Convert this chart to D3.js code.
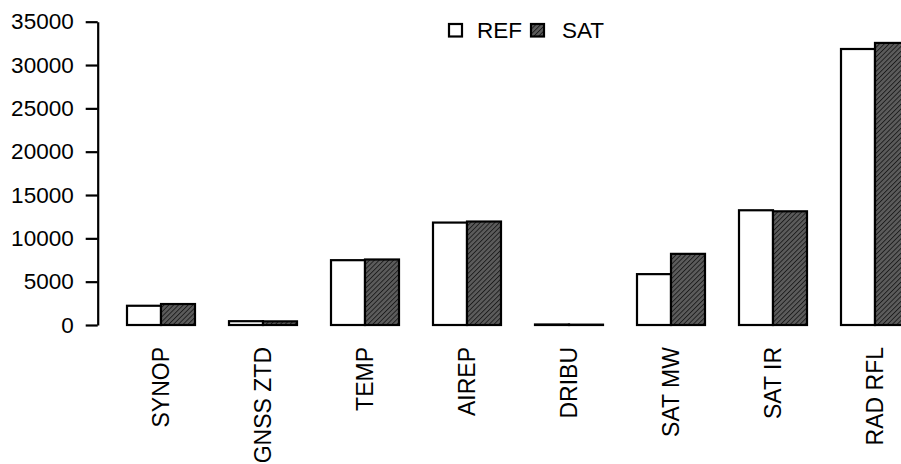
<!DOCTYPE html>
<html>
<head>
<meta charset="utf-8">
<script src="https://cdn.jsdelivr.net/npm/d3@7"></script>
<style>
  html, body { margin: 0; padding: 0; background: #fff; overflow: hidden; }
  svg { display: block; font-family: "Liberation Sans", Arial, sans-serif; }
</style>
</head>
<body>
<svg id="chart" width="901" height="464"></svg>
<script>
// Observation counts per observation type, reference run vs. satellite run
const categories = ["SYNOP", "GNSS ZTD", "TEMP", "AIREP", "DRIBU", "SAT MW", "SAT IR", "RAD RFL"];
const seriesNames = ["REF", "SAT"];
const refValues = [2220, 440, 7480, 11820, 60, 5870, 13240, 31850];
const satValues = [2420, 420, 7560, 11940, 40, 8210, 13120, 32550];
const yTicks = [0, 5000, 10000, 15000, 20000, 25000, 30000, 35000];

const svg = d3.select("#chart");
const defs = svg.append("defs");

// diagonal hatching for the second series
const hatch = defs.append("pattern")
  .attr("id", "hatch")
  .attr("patternUnits", "userSpaceOnUse")
  .attr("width", 3.4).attr("height", 3.4)
  .attr("patternTransform", "rotate(45)");
hatch.append("rect").attr("width", 3.4).attr("height", 3.4).attr("fill", "#5c5c5c");
hatch.append("line")
  .attr("x1", 0).attr("y1", 0).attr("x2", 0).attr("y2", 3.4)
  .attr("stroke", "#1c1c1c").attr("stroke-width", 1.8);

const fills = { REF: "#ffffff", SAT: "url(#hatch)" };

const y = d3.scaleLinear().domain([0, 35000]).range([325, 21.7]);

const x = d3.scaleBand()
  .domain(categories)
  .range([110, 926])
  .paddingInner(1 / 3)
  .paddingOuter(1 / 6);

const xs = d3.scaleBand().domain(seriesNames).range([0, x.bandwidth()]);

const rows = categories.map((c, i) => ({
  category: c,
  values: [
    { key: "REF", value: refValues[i] },
    { key: "SAT", value: satValues[i] }
  ]
}));

// bars
const groups = svg.append("g").selectAll("g")
  .data(rows).join("g")
  .attr("transform", d => `translate(${x(d.category)},0)`);

groups.selectAll("rect")
  .data(d => d.values).join("rect")
  .attr("x", d => xs(d.key))
  .attr("y", d => y(d.value))
  .attr("width", xs.bandwidth())
  .attr("height", d => y(0) - y(d.value))
  .attr("fill", d => fills[d.key])
  .attr("stroke", "#000")
  .attr("stroke-width", 2.2);

// y axis
const yAxis = svg.append("g")
  .attr("transform", "translate(97.7,0)")
  .call(d3.axisLeft(y).tickValues(yTicks).tickFormat(d3.format("d"))
    .tickSize(12).tickSizeOuter(0).tickPadding(12));
yAxis.select(".domain").attr("stroke", "#000").attr("stroke-width", 2.2);
yAxis.selectAll(".tick line").attr("stroke", "#000").attr("stroke-width", 2.2);
yAxis.selectAll(".tick text")
  .attr("fill", "#000")
  .style("font-size", "22.5px")
  .style("font-family", "'Liberation Sans', Arial, sans-serif");

// category labels, rotated
svg.append("g").selectAll("text")
  .data(categories).join("text")
  .attr("transform", d => `translate(${x(d) + x.bandwidth() / 2},347) rotate(-90)`)
  .attr("text-anchor", "end")
  .attr("dy", "0.35em")
  .style("font-size", "23px")
  .attr("fill", "#000")
  .text(d => d);

// legend
const legend = svg.append("g").selectAll("g")
  .data([{ key: "REF", x: 449 }, { key: "SAT", x: 531 }]).join("g")
  .attr("transform", d => `translate(${d.x},24)`);
legend.append("rect")
  .attr("width", 13).attr("height", 12.5)
  .attr("fill", d => fills[d.key])
  .attr("stroke", "#000")
  .attr("stroke-width", 2.2);
legend.append("text")
  .attr("x", d => d.key === "REF" ? 28 : 31)
  .attr("y", 6.5)
  .attr("dy", "0.35em")
  .style("font-size", "22.5px")
  .attr("fill", "#000")
  .text(d => d.key);
</script>
</body>
</html>
